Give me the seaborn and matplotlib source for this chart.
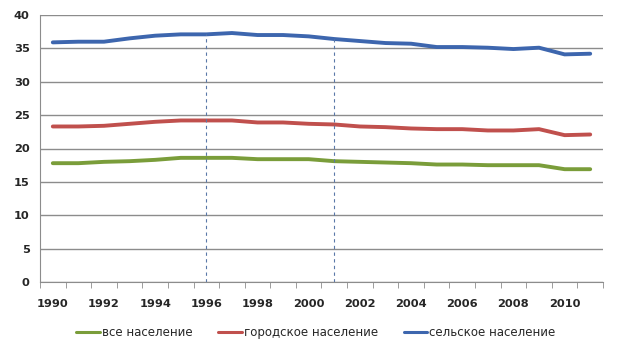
import pandas as pd
import seaborn as sns
import matplotlib.pyplot as plt

years = list(range(1990, 2012))
total = [17.8, 17.8, 18.0, 18.1, 18.3, 18.6, 18.6, 18.6, 18.4, 18.4, 18.4,
         18.1, 18.0, 17.9, 17.8, 17.6, 17.6, 17.5, 17.5, 17.5, 16.9, 16.9]
urban = [23.3, 23.3, 23.4, 23.7, 24.0, 24.2, 24.2, 24.2, 23.9, 23.9, 23.7,
         23.6, 23.3, 23.2, 23.0, 22.9, 22.9, 22.7, 22.7, 22.9, 22.0, 22.1]
rural = [35.9, 36.0, 36.0, 36.5, 36.9, 37.1, 37.1, 37.3, 37.0, 37.0, 36.8,
         36.4, 36.1, 35.8, 35.7, 35.2, 35.2, 35.1, 34.9, 35.1, 34.1, 34.2]
names = ['все население', 'городское население', 'сельское население']
marked_years = [1996, 2001]

df = pd.DataFrame({'year': years, names[0]: total, names[1]: urban, names[2]: rural})
long = df.melt(id_vars='year', var_name='group', value_name='value')

sns.set_style('white')
plt.rcParams['font.family'] = ['DejaVu Sans']

fig = plt.figure(figsize=(6.18, 3.59), dpi=100)
ax = fig.add_axes([40 / 618, 1 - 282 / 359, 563 / 618, 267 / 359])

palette = {names[0]: '#7A9D3A', names[1]: '#C0504D', names[2]: '#3D66AE'}
sns.lineplot(data=long, x='year', y='value', hue='group', palette=palette,
             linewidth=2.8, ax=ax, legend=True)

# dashed markers up to the rural line
for yr in marked_years:
    ax.vlines(yr, 0, df.loc[df.year == yr, names[2]].values[0],
              colors='#5A78A8', linestyles=(0, (3, 3)), linewidth=0.8)

ax.set_xlim(1989.5, 2011.5)
ax.set_ylim(0, 40)
ax.set_yticks(range(0, 41, 5))
ax.set_xticks(range(1990, 2011, 2))
ax.set_xticks([y - 0.5 for y in years] + [2011.5], minor=True)
ax.yaxis.grid(True, color='#8C8C8C', linewidth=1)
ax.set_axisbelow(True)
for side in ['top', 'right']:
    ax.spines[side].set_visible(False)
for side in ['left', 'bottom']:
    ax.spines[side].set_color('#8C8C8C')
ax.tick_params(axis='x', which='major', length=0, pad=12, labelsize=8.2)
ax.tick_params(axis='x', which='minor', length=4, color='#8C8C8C', direction='out')
ax.tick_params(axis='y', length=4, color='#8C8C8C', direction='out', labelsize=8.2)
ax.tick_params(axis='both', bottom=True, which='both')
for lab in ax.get_xticklabels() + ax.get_yticklabels():
    lab.set_fontweight('bold')
ax.set_xlabel('')
ax.set_ylabel('')

leg = ax.legend(loc='upper center', bbox_to_anchor=(0.49, -0.125), ncol=3, frameon=False,
                fontsize=8.5, handlelength=2.0, handletextpad=0.15, columnspacing=2.2)
for line in leg.get_lines():
    line.set_linewidth(2.2)

fig.savefig('out.png', dpi=100)
